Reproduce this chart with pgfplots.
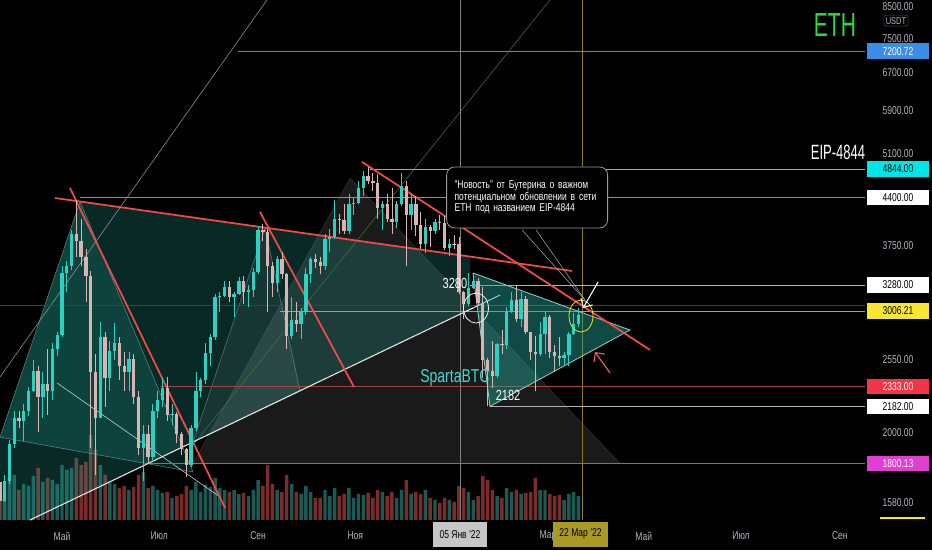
\documentclass[border=0pt]{standalone}
\usepackage{pgfplots}
\pgfplotsset{compat=1.18}
\usepackage{pgfplotstable}
\usepackage{fontspec}
\setmainfont{Liberation Sans}[FakeStretch=0.75]
\newfontfamily\narrowfont{Liberation Sans}[FakeStretch=0.63]
\usetikzlibrary{arrows.meta}

\definecolor{candup}{HTML}{2FD0C0}
\definecolor{canddn}{HTML}{D8B4B4}
\definecolor{volup}{HTML}{1B5A54}
\definecolor{voldn}{HTML}{7A2C2C}
\definecolor{teal}{HTML}{26A69A}
\definecolor{trend}{HTML}{F24A4A}
\definecolor{scaletxt}{HTML}{B2B5BE}
\definecolor{lvblue}{HTML}{3D8FD6}
\definecolor{lvcyan}{HTML}{62C2CF}
\definecolor{lvyel}{HTML}{B3A92E}
\definecolor{lvred}{HTML}{A04545}
\definecolor{lvmag}{HTML}{B050B0}
\definecolor{boxblue}{HTML}{3A8EE6}
\definecolor{boxcyan}{HTML}{00E5E5}
\definecolor{boxyel}{HTML}{F7E733}
\definecolor{boxred}{HTML}{F23645}
\definecolor{boxmag}{HTML}{E040D0}
\definecolor{ethgreen}{HTML}{22DD44}
\definecolor{sparta}{HTML}{3FD9D0}
\definecolor{olive}{HTML}{A99A28}

% 3-day candles, day 0 = 1 May 2021; v = volume (relative height)
\pgfplotstableread{
d o h l c v
-39 1690 1720 1560 1590 38
-36 1590 1730 1580 1700 30
-33 1700 1950 1680 1920 42
-30 1920 2150 1900 2100 45
-27 2100 2150 2030 2080 30
-24 2080 2200 1940 2150 36
-21 2150 2330 2110 2300 34
-18 2300 2550 2290 2460 44
-15 2460 2500 2000 2250 52
-12 2250 2450 2100 2350 38
-9 2350 2650 2120 2300 42
-6 2300 2700 2230 2650 40
-3 2650 2800 2580 2770 36
0 2770 3500 2750 3420 55
3 3420 3560 3200 3500 50
6 3500 3950 3450 3900 52
9 3900 4370 3600 3800 62
12 3800 4100 3500 3600 55
15 3600 3700 3100 3380 58
18 3380 3440 1900 2450 85
21 2450 2600 1730 2100 70
24 2100 2900 2100 2750 55
27 2750 2800 2180 2400 45
30 2400 2720 2300 2630 38
33 2630 2890 2550 2700 36
36 2700 2750 2380 2500 32
39 2500 2620 2300 2450 34
42 2450 2620 2300 2560 30
45 2560 2600 2200 2250 33
48 2250 2300 1850 1900 45
51 1900 2050 1700 1990 48
54 1990 2050 1800 1840 32
57 1840 2200 1820 2150 34
60 2150 2300 2100 2230 30
63 2230 2400 2180 2320 27
66 2320 2410 2080 2120 28
69 2120 2200 2050 2130 22
72 2130 2140 1930 1990 24
75 1990 2000 1850 1890 26
78 1890 1900 1720 1790 34
81 1790 2050 1780 2030 30
84 2030 2450 2010 2300 38
87 2300 2400 2250 2380 28
90 2380 2700 2350 2610 35
93 2610 2780 2500 2750 33
96 2750 3180 2730 3150 42
99 3150 3200 3000 3160 32
102 3160 3330 3150 3260 30
105 3260 3330 3100 3150 28
108 3150 3200 2950 3180 30
111 3180 3370 3170 3320 26
114 3320 3380 3080 3200 27
117 3200 3280 3050 3230 24
120 3230 3470 3150 3430 30
123 3430 4000 3400 3950 40
126 3950 4030 3800 3920 34
129 3920 3960 3000 3500 55
132 3500 3540 3150 3300 36
135 3300 3620 3200 3580 30
138 3580 3660 3350 3400 28
141 3400 3420 2650 2760 45
144 2760 3150 2740 2920 36
147 2920 3100 2800 2880 28
150 2880 3040 2740 3000 26
153 3000 3470 2970 3400 34
156 3400 3600 3300 3580 28
159 3580 3640 3470 3550 22
162 3550 3610 3400 3500 22
165 3500 3890 3450 3830 30
168 3830 3960 3670 3850 24
171 3850 4370 3830 4100 32
174 4100 4170 3900 4080 24
177 4080 4300 3900 3930 26
180 3930 4460 3900 4300 32
183 4300 4400 4150 4320 22
186 4320 4660 4300 4540 26
189 4540 4820 4430 4730 25
192 4730 4870 4600 4660 27
195 4660 4780 4500 4620 22
198 4620 4770 4100 4250 30
201 4250 4350 3950 4300 28
204 4300 4450 4050 4100 24
207 4100 4550 3900 4060 28
210 4060 4350 3980 4300 22
213 4300 4780 4280 4580 30
216 4580 4650 3500 4150 40
219 4150 4450 3950 4300 26
222 4300 4420 3870 4010 28
225 4010 4200 3700 3760 26
228 3760 4100 3650 3990 30
231 3990 4020 3730 3940 22
234 3940 4100 3900 4050 20
237 4050 4150 3950 4040 17
240 4040 4130 3690 3710 22
243 3710 3830 3620 3770 20
246 3770 3880 3700 3760 18
249 3760 3850 3180 3200 34
252 3200 3220 2930 3080 32
255 3080 3420 3060 3250 28
258 3250 3370 3240 3330 20
261 3330 3360 3060 3090 24
264 3090 3260 2400 2550 44
267 2550 2570 2182 2460 40
270 2460 2720 2320 2420 30
273 2420 2700 2400 2690 24
276 2690 2820 2600 2680 22
279 2680 3050 2650 3000 32
282 3000 3200 2990 3120 28
285 3120 3280 2900 2930 30
288 2930 3200 2850 3130 26
291 3130 3160 2780 2800 27
294 2800 2800 2550 2620 28
297 2620 2760 2300 2600 42
300 2600 2900 2580 2780 30
303 2780 3000 2600 2950 30
306 2950 2970 2570 2620 26
309 2620 2680 2450 2580 24
312 2580 2750 2500 2570 25
315 2570 2620 2500 2590 20
318 2590 2800 2500 2780 26
321 2780 2990 2770 2880 28
324 2880 3040 2850 2970 24
}\candles

\pgfplotsset{
  upc/.style={restrict expr to domain={\thisrow{c}-\thisrow{o}}{0:100000}},
  dnc/.style={restrict expr to domain={\thisrow{c}-\thisrow{o}}{-100000:-0.001}},
  wick/.style={draw=none, forget plot, error bars/.cd, y dir=plus, y explicit,
    error mark=none, error bar style={line width=0.6pt, draw=#1}},
  body/.style={draw=none, forget plot, error bars/.cd, y dir=plus, y explicit,
    error mark=none, error bar style={line width=2.5pt, draw=#1}},
  frame/.style={at={(0,0)}, anchor=south west, scale only axis,
    width=699pt, height=412.5pt, xmin=-38.9, xmax=545.8, hide axis},
}
\tikzset{
  lab/.style={font=\fontsize{8.5}{10}\selectfont, text=scaletxt, inner sep=0pt},
  pbox/.style={minimum width=46.5pt, minimum height=11.5pt, inner sep=0pt,
    font=\fontsize{8.5}{10}\selectfont},
}

\begin{document}
\begin{tikzpicture}
\fill[black] (0,0) rectangle (699pt,412.5pt);

% volume
\begin{axis}[frame, ymin=-30, ymax=520, ybar, bar width=2.6pt, bar shift=0pt]
\addplot[upc, fill=volup, draw=none] table[x=d, y=v] {\candles};
\addplot[dnc, fill=voldn, draw=none] table[x=d, y=v] {\candles};
\end{axis}

% price
\begin{axis}[frame, ymode=log, ymin=1346.4, ymax=8551]
% pattern areas
\addplot[fill=white, fill opacity=0.10, draw=gray, draw opacity=0.3, line width=0.4pt]
  coordinates {(82.2,1800.13) (180.7,4700) (350.1,1800.13) (82.2,1800.13)};
\addplot[fill=teal, fill opacity=0.25, draw=none]
  coordinates {(-38.9,1968) (11.3,4344) (256.0,3609) (256.0,3019) (-20.1,1489) (-38.9,1489) (-38.9,1968)};
\addplot[fill=teal, fill opacity=0.20, draw=teal!60!white, draw opacity=0.6, line width=0.4pt]
  coordinates {(-38.9,1968) (11.3,4344) (82.2,1750) (-38.9,1968)};
\addplot[fill=white, fill opacity=0.06, draw=white!70!teal, draw opacity=0.4, line width=0.4pt]
  coordinates {(82.2,1936) (127.4,3974) (149.3,2297) (82.2,1936)};

% thin guide lines
\addplot[gray!80, line width=0.4pt] coordinates {(-38.9,2408) (128.6,8551)};
\addplot[green!35!gray!70!black, line width=0.4pt] coordinates {(82.2,1916) (306.1,8551)};
\addplot[white!70!teal, line width=0.4pt] coordinates {(-3.1,2360) (99.1,1609)};

% crosshair and date lines
\addplot[gray!50!black, line width=0.4pt] coordinates {(-38.9,3065) (503.8,3065)};
\addplot[gray, line width=0.5pt] coordinates {(249.7,1489) (249.7,8551)};
\addplot[olive!80!black, line width=0.5pt] coordinates {(326.2,1489) (326.2,8551)};

% horizontal levels
\addplot[lvblue, line width=0.8pt] coordinates {(110.4,7200.72) (503.8,7200.72)};
\addplot[lvcyan, line width=0.7pt] coordinates {(193.2,4844) (503.8,4844)};
\addplot[gray!90, line width=0.6pt] coordinates {(11.3,4400) (503.8,4400)};
\addplot[gray!60!white, line width=0.6pt] coordinates {(256.0,3280) (503.8,3280)};
\addplot[lvyel, line width=0.6pt] coordinates {(136.8,3006.21) (503.8,3006.21)};
\addplot[lvred, line width=0.6pt] coordinates {(61.5,2333) (503.8,2333)};
\addplot[gray!60!white, line width=0.6pt] coordinates {(268.5,2182) (503.8,2182)};
\addplot[lvmag, line width=0.6pt] coordinates {(52.1,1800.13) (503.8,1800.13)};

% rising support
\addplot[white!80!gray, line width=0.8pt] coordinates {(-20.1,1489) (274.8,3172)};

% March triangle
\addplot[fill=teal, fill opacity=0.45, draw=teal!50!white, line width=0.6pt]
  coordinates {(257.8,3416) (356.3,2820) (268.5,2182) (257.8,3416)};

% red trend lines
\addplot[trend, line width=1.3pt] coordinates {(-4.4,4395) (320.0,3439)};
\addplot[trend, line width=1.3pt] coordinates {(5.0,4546) (102.3,1550)};
\addplot[trend, line width=1.3pt] coordinates {(124.2,4194) (183.2,2328)};
\addplot[trend, line width=1.3pt] coordinates {(188.2,4961) (368.9,2637)};

% candles
\addplot[upc, wick=candup] table[x=d, y=l, y error expr=\thisrow{h}-\thisrow{l}] {\candles};
\addplot[dnc, wick=canddn] table[x=d, y=l, y error expr=\thisrow{h}-\thisrow{l}] {\candles};
\addplot[upc, body=candup] table[x=d, y=o, y error expr=\thisrow{c}-\thisrow{o}] {\candles};
\addplot[dnc, body=canddn] table[x=d, y=c, y error expr=\thisrow{o}-\thisrow{c}] {\candles};

% callout
\addplot[gray!70!white, line width=0.4pt] coordinates {(288.6,3948) (328.1,3119)};
\addplot[gray!70!white, line width=0.4pt] coordinates {(297.4,3948) (328.1,3119)};
\node[draw=gray!80!white, fill=black, rounded corners=6pt, line width=0.6pt,
  text width=108.75pt, inner xsep=6pt, minimum height=45.75pt, align=left,
  text=white, font=\fontsize{8.5}{8.6}\selectfont]
  at (axis cs:291.8,4403)
  {"Новость" от Бутерина о важном\\потенциальном обновлении в сети\\ETH под названием EIP-4844};

% marks on the chart
\draw[white!85!gray, line width=0.6pt] (axis cs:259.7,3036) ellipse [x radius=9.4pt, y radius=11.25pt];
\draw[yellow!80!olive, line width=0.6pt] (axis cs:325.6,2956) ellipse [x radius=9pt, y radius=12pt];
\draw[white, line width=0.8pt, -{Straight Barb[length=5pt]}] (axis cs:336.3,3314) -- (axis cs:326.9,3036);
\draw[red!50!pink, line width=0.8pt, -{Straight Barb[length=5pt]}] (axis cs:343.8,2441) -- (axis cs:334.4,2619);

\node[text=ethgreen, font=\narrowfont\fontsize{25}{27}\selectfont] at (axis cs:484.9,7862) {ETH};
\node[text=white, font=\narrowfont\fontsize{15.5}{17}\selectfont] at (axis cs:486.8,5131) {EIP-4844};
\node[text=white, font=\fontsize{11}{13}\selectfont] at (axis cs:246.5,3303) {3280};
\node[text=sparta, font=\fontsize{14}{16}\selectfont] at (axis cs:246.5,2400) {SpartaBTC};
\node[text=white, font=\fontsize{11}{13}\selectfont] at (axis cs:279.8,2266) {2182};

% price scale
\node[lab] at (axis cs:524.5,8350) {8500.00};
\node[lab] at (axis cs:524.5,7500) {7500.00};
\node[lab] at (axis cs:524.5,6700) {6700.00};
\node[lab] at (axis cs:524.5,5900) {5900.00};
\node[lab] at (axis cs:524.5,5100) {5100.00};
\node[lab] at (axis cs:524.5,3750) {3750.00};
\node[lab] at (axis cs:524.5,2550) {2550.00};
\node[lab] at (axis cs:524.5,2000) {2000.00};
\node[lab] at (axis cs:524.5,1580) {1580.00};
\node[fill=black, draw=gray!60!black, rounded corners=2pt, inner sep=1.5pt, text=scaletxt,
  font=\fontsize{7.5}{8}\selectfont] at (axis cs:523.2,7980) {USDT};
\node[pbox, fill=boxblue, text=white] at (axis cs:524.5,7200.72) {7200.72};
\node[pbox, fill=boxcyan, text=black] at (axis cs:524.5,4844) {4844.00};
\node[pbox, fill=white, text=black] at (axis cs:524.5,4400) {4400.00};
\node[pbox, fill=white, text=black] at (axis cs:524.5,3280) {3280.00};
\node[pbox, fill=boxyel, text=black] at (axis cs:524.5,3006.21) {3006.21};
\node[pbox, fill=boxred, text=white] at (axis cs:524.5,2333) {2333.00};
\node[pbox, fill=white, text=black] at (axis cs:524.5,2182) {2182.00};
\node[pbox, fill=boxmag, text=white] at (axis cs:524.5,1800.13) {1800.13};
\addplot[yellow!90!orange, line width=1.5pt] coordinates {(513.2,1499) (541.4,1499)};

% time scale
\node[lab] at (axis cs:0,1411) {Май};
\node[lab] at (axis cs:61,1411) {Июл};
\node[lab] at (axis cs:123,1411) {Сен};
\node[lab] at (axis cs:184,1411) {Ноя};
\node[lab] at (axis cs:304.9,1411) {Мар};
\node[lab] at (axis cs:365,1411) {Май};
\node[lab] at (axis cs:426,1411) {Июл};
\node[lab] at (axis cs:488,1411) {Сен};
\node[fill=gray!45!white, text=black, minimum width=40.5pt, minimum height=18.75pt,
  inner sep=0pt, font=\fontsize{8.5}{10}\selectfont] at (axis cs:249.7,1420) {05 Янв '22};
\node[fill=olive, text=black, minimum width=41.25pt, minimum height=18.75pt,
  inner sep=0pt, font=\fontsize{8.5}{10}\selectfont] at (axis cs:325.3,1420) {22 Мар '22};
\end{axis}

\pgfresetboundingbox
\path[use as bounding box] (0,0) rectangle (699pt,412.5pt);
\end{tikzpicture}
\end{document}
